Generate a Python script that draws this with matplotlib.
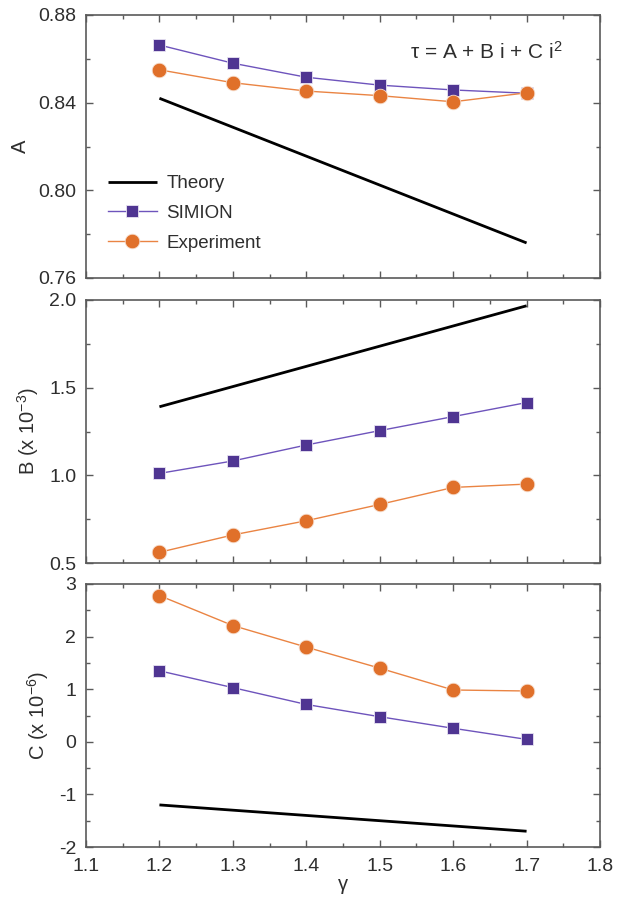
import matplotlib
matplotlib.use("Agg")
import matplotlib.pyplot as plt
from matplotlib.ticker import MultipleLocator, FormatStrFormatter

plt.rcParams['font.family'] = ['Liberation Sans', 'DejaVu Sans']
plt.rcParams['mathtext.fontset'] = 'custom'
plt.rcParams['mathtext.rm'] = 'Liberation Sans'
plt.rcParams['mathtext.it'] = 'Liberation Sans'

gamma = [1.2, 1.3, 1.4, 1.5, 1.6, 1.7]
theory_x = [1.2, 1.7]

A_theory = [0.842, 0.776]
A_simion = [0.8663, 0.858, 0.8516, 0.848, 0.8458, 0.8443]
A_exp = [0.855, 0.8491, 0.8453, 0.8432, 0.8404, 0.8445]

B_theory = [1.391, 1.967]
B_simion = [1.011, 1.082, 1.173, 1.255, 1.335, 1.415]
B_exp = [0.561, 0.660, 0.741, 0.834, 0.931, 0.950]

C_theory = [-1.20, -1.70]
C_simion = [1.35, 1.03, 0.71, 0.477, 0.257, 0.046]
C_exp = [2.78, 2.21, 1.80, 1.40, 0.985, 0.966]

purple_m = '#4F3592'
purple_l = '#6E54BC'
orange_m = '#E0702A'
orange_l = '#EA8443'
spine_c = '#5a5a5a'
text_c = '#2e2e2e'

fig = plt.figure(figsize=(6.25, 8.99), dpi=100)
W, H = 625, 899
left, width = 86 / W, 514 / W
bottoms = [(H - 278) / H, (H - 563) / H, (H - 847) / H]
hgt = 263 / H

panels = [
    (A_theory, A_simion, A_exp, (0.76, 0.88), 0.04, 0.02, '%.2f', 'A'),
    (B_theory, B_simion, B_exp, (0.5, 2.0), 0.5, 0.25, '%.1f', r'B (x 10$^{-3}$)'),
    (C_theory, C_simion, C_exp, (-2, 3), 1, 0.5, '%d', r'C (x 10$^{-6}$)'),
]

axes = []
for i, (th, si, ex, ylim, maj, mnr, fmt, lab) in enumerate(panels):
    ax = fig.add_axes([left, bottoms[i], width, hgt])
    ax.plot(theory_x, th, color='black', lw=2.0, label='Theory', solid_capstyle='butt', zorder=2)
    ax.plot(gamma, si, color=purple_l, lw=1.0, marker='s', ms=9, mfc=purple_m,
            mec='#e8e4f2', mew=0.6, label='SIMION', zorder=2)
    ax.plot(gamma, ex, color=orange_l, lw=1.0, marker='o', ms=10.5, mfc=orange_m,
            mec='#f6dccb', mew=0.6, label='Experiment', zorder=2)
    ax.set_xlim(1.1, 1.8)
    ax.set_ylim(*ylim)
    ax.xaxis.set_major_locator(MultipleLocator(0.1))
    ax.xaxis.set_minor_locator(MultipleLocator(0.05))
    ax.yaxis.set_major_locator(MultipleLocator(maj))
    ax.yaxis.set_minor_locator(MultipleLocator(mnr))
    ax.yaxis.set_major_formatter(FormatStrFormatter(fmt))
    ax.tick_params(which='both', direction='in', top=True, right=True, color=spine_c,
                   labelsize=14, labelcolor=text_c, width=1.0)
    ax.tick_params(which='major', length=5)
    ax.tick_params(axis='y', which='major', pad=7)
    ax.tick_params(axis='x', which='major', pad=8)
    ax.tick_params(which='minor', length=3)
    for s in ax.spines.values():
        s.set_color(spine_c)
        s.set_linewidth(1.2)
        s.set_zorder(3)
    ax.set_ylabel(lab, fontsize=14.5, color=text_c, labelpad=6)
    if i < 2:
        ax.tick_params(labelbottom=False)
    axes.append(ax)

leg = axes[0].legend(loc='lower left', bbox_to_anchor=(0.01, 0.035), frameon=False,
                     fontsize=13.5, handlelength=2.6, handletextpad=0.5, labelspacing=0.68)
for t in leg.get_texts():
    t.set_color(text_c)

axes[0].text(0.928, 0.858, r'$\tau$ = A + B i + C i$^{2}$', transform=axes[0].transAxes,
             ha='right', va='center', fontsize=15, color=text_c)

axes[2].set_xlabel(r'$\gamma$', fontsize=14.5, color=text_c, labelpad=1)
axes[2].xaxis.set_major_formatter(FormatStrFormatter('%.1f'))

fig.savefig('out.png', dpi=100)
